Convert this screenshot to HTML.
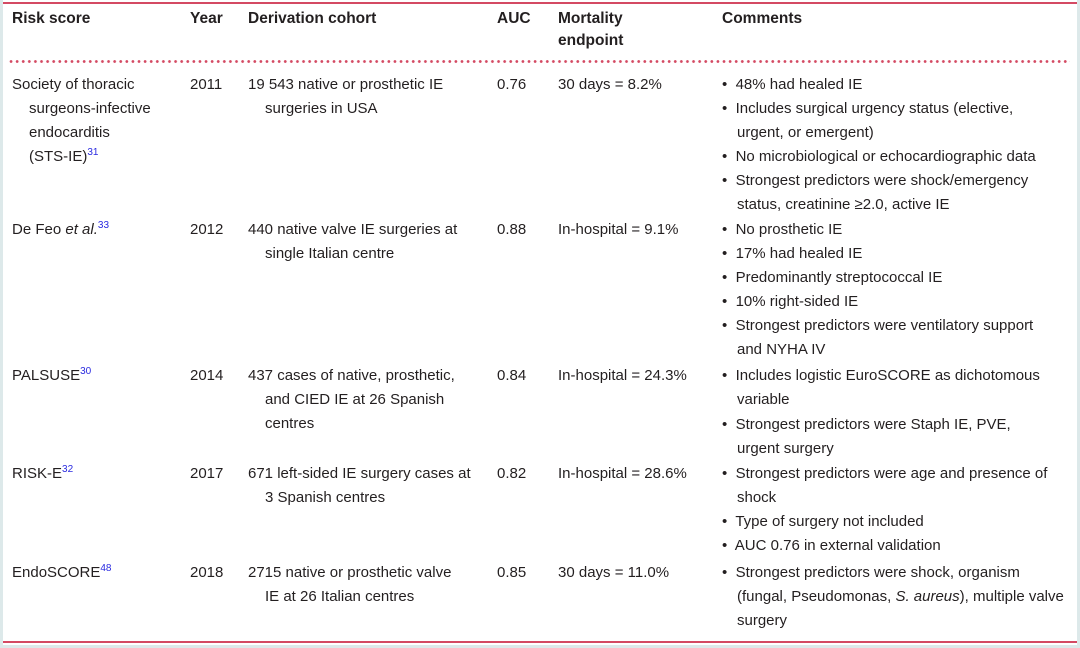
<!DOCTYPE html>
<html><head><meta charset="utf-8"><style>
html,body{margin:0;padding:0}
body{width:1080px;height:648px;background:#dde9ea;position:relative;overflow:hidden;font-family:"Liberation Sans",sans-serif;font-size:15px;color:#231f20}
#p{position:absolute;left:3px;top:0;width:1074px;height:645px;background:#fff}
.l{position:absolute;white-space:nowrap;line-height:24px;height:24px}
.b{font-weight:bold;font-size:15.5px}
sup{color:#2a2ae0;font-size:10px;line-height:0;vertical-align:6px}
.hr{position:absolute;left:3px;width:1074px;height:2px;background:#d44a63}
.dot{position:absolute;left:8px;width:1062px;top:60px;height:3px;background:radial-gradient(circle,#d44a63 1.2px,transparent 1.6px) 0 0/6.1px 3px repeat-x}
</style></head><body>
<div id="p"></div>
<div class="hr" style="top:2px"></div>
<div class="hr" style="top:641px"></div>
<div class="dot"></div>

<div class="l b" style="left:12px;top:7px">Risk score</div>
<div class="l b" style="left:190px;top:7px">Year</div>
<div class="l b" style="left:248px;top:7px">Derivation cohort</div>
<div class="l b" style="left:497px;top:7px">AUC</div>
<div class="l b" style="left:558px;top:7px">Mortality</div>
<div class="l b" style="left:558px;top:29px">endpoint</div>
<div class="l b" style="left:722px;top:7px">Comments</div>

<div class="l" style="left:12px;top:73px">Society of thoracic</div>
<div class="l" style="left:29px;top:97px">surgeons-infective</div>
<div class="l" style="left:29px;top:121px">endocarditis</div>
<div class="l" style="left:29px;top:145px">(STS-IE)<sup>31</sup></div>
<div class="l" style="left:190px;top:73px">2011</div>
<div class="l" style="left:248px;top:73px">19 543 native or prosthetic IE</div>
<div class="l" style="left:265px;top:97px">surgeries in USA</div>
<div class="l" style="left:497px;top:73px">0.76</div>
<div class="l" style="left:558px;top:73px">30 days = 8.2%</div>
<div class="l" style="left:722px;top:73px">•&nbsp; 48% had healed IE</div>
<div class="l" style="left:722px;top:97px">•&nbsp; Includes surgical urgency status (elective,</div>
<div class="l" style="left:737px;top:121px">urgent, or emergent)</div>
<div class="l" style="left:722px;top:145px">•&nbsp; No microbiological or echocardiographic data</div>
<div class="l" style="left:722px;top:169px">•&nbsp; Strongest predictors were shock/emergency</div>
<div class="l" style="left:737px;top:193px">status, creatinine ≥2.0, active IE</div>

<div class="l" style="left:12px;top:218px">De Feo <i>et al.</i><sup>33</sup></div>
<div class="l" style="left:190px;top:218px">2012</div>
<div class="l" style="left:248px;top:218px">440 native valve IE surgeries at</div>
<div class="l" style="left:265px;top:242px">single Italian centre</div>
<div class="l" style="left:497px;top:218px">0.88</div>
<div class="l" style="left:558px;top:218px">In-hospital = 9.1%</div>
<div class="l" style="left:722px;top:218px">•&nbsp; No prosthetic IE</div>
<div class="l" style="left:722px;top:242px">•&nbsp; 17% had healed IE</div>
<div class="l" style="left:722px;top:266px">•&nbsp; Predominantly streptococcal IE</div>
<div class="l" style="left:722px;top:290px">•&nbsp; 10% right-sided IE</div>
<div class="l" style="left:722px;top:314px">•&nbsp; Strongest predictors were ventilatory support</div>
<div class="l" style="left:737px;top:338px">and NYHA IV</div>

<div class="l" style="left:12px;top:364px">PALSUSE<sup>30</sup></div>
<div class="l" style="left:190px;top:364px">2014</div>
<div class="l" style="left:248px;top:364px">437 cases of native, prosthetic,</div>
<div class="l" style="left:265px;top:388px">and CIED IE at 26 Spanish</div>
<div class="l" style="left:265px;top:412px">centres</div>
<div class="l" style="left:497px;top:364px">0.84</div>
<div class="l" style="left:558px;top:364px">In-hospital = 24.3%</div>
<div class="l" style="left:722px;top:364px">•&nbsp; Includes logistic EuroSCORE as dichotomous</div>
<div class="l" style="left:737px;top:388px">variable</div>
<div class="l" style="left:722px;top:413px">•&nbsp; Strongest predictors were Staph IE, PVE,</div>
<div class="l" style="left:737px;top:437px">urgent surgery</div>

<div class="l" style="left:12px;top:462px">RISK-E<sup>32</sup></div>
<div class="l" style="left:190px;top:462px">2017</div>
<div class="l" style="left:248px;top:462px">671 left-sided IE surgery cases at</div>
<div class="l" style="left:265px;top:486px">3 Spanish centres</div>
<div class="l" style="left:497px;top:462px">0.82</div>
<div class="l" style="left:558px;top:462px">In-hospital = 28.6%</div>
<div class="l" style="left:722px;top:462px">•&nbsp; Strongest predictors were age and presence of</div>
<div class="l" style="left:737px;top:486px">shock</div>
<div class="l" style="left:722px;top:510px">•&nbsp; Type of surgery not included</div>
<div class="l" style="left:722px;top:534px">•&nbsp; AUC 0.76 in external validation</div>

<div class="l" style="left:12px;top:561px">EndoSCORE<sup>48</sup></div>
<div class="l" style="left:190px;top:561px">2018</div>
<div class="l" style="left:248px;top:561px">2715 native or prosthetic valve</div>
<div class="l" style="left:265px;top:585px">IE at 26 Italian centres</div>
<div class="l" style="left:497px;top:561px">0.85</div>
<div class="l" style="left:558px;top:561px">30 days = 11.0%</div>
<div class="l" style="left:722px;top:561px">•&nbsp; Strongest predictors were shock, organism</div>
<div class="l" style="left:737px;top:585px">(fungal, Pseudomonas, <i>S. aureus</i>), multiple valve</div>
<div class="l" style="left:737px;top:609px">surgery</div>
</body></html>
